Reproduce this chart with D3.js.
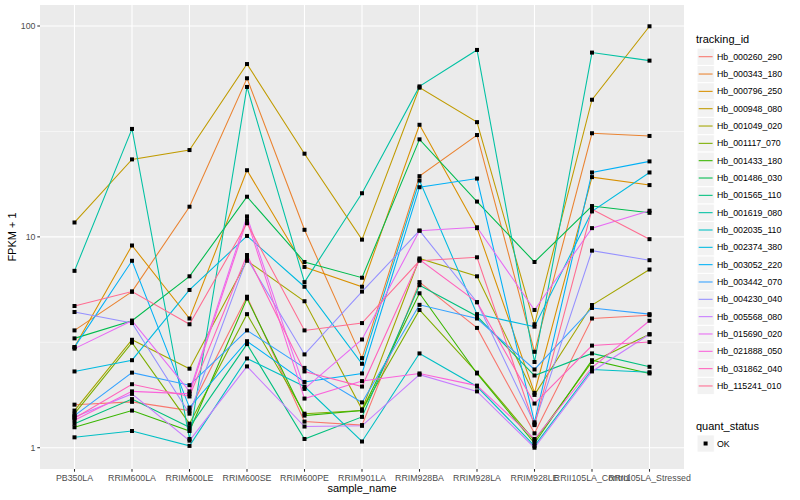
<!DOCTYPE html>
<html>
<head>
<meta charset="utf-8">
<script src="https://cdn.jsdelivr.net/npm/d3@7"></script>
<style>
  body { margin: 0; background: #fff; }
  text { font-family: "Liberation Sans", Arial, Helvetica, sans-serif; }
</style>
</head>
<body>
<div id="chart"></div>
<script>
// samples on the x axis
var samples = ["PB350LA", "RRIM600LA", "RRIM600LE", "RRIM600SE", "RRIM600PE", "RRIM901LA",
  "RRIM928BA", "RRIM928LA", "RRIM928LE", "RRII105LA_Control", "RRII105LA_Stressed"];

var trackingIds = ["Hb_000260_290", "Hb_000343_180", "Hb_000796_250", "Hb_000948_080", "Hb_001049_020",
  "Hb_001117_070", "Hb_001433_180", "Hb_001486_030", "Hb_001565_110", "Hb_001619_080",
  "Hb_002035_110", "Hb_002374_380", "Hb_003052_220", "Hb_003442_070", "Hb_004230_040",
  "Hb_005568_080", "Hb_015690_020", "Hb_021888_050", "Hb_031862_040", "Hb_115241_010"];

// FPKM + 1, one array per gene (same order as samples)
var hb000260 = [1.6, 1.65, 1.5, 5.2, 1.33, 1.28, 6.1, 3.7, 1.17, 4.1, 4.25];
var hb000343 = [3.6, 5.5, 13.9, 56.5, 10.8, 2.66, 19.4, 30.4, 2.85, 31, 30.1];
var hb000796 = [3.0, 9.1, 4.1, 20.7, 7.2, 5.8, 34, 11.0, 1.82, 19.2, 17.6];
var hb000948 = [11.7, 23.3, 25.8, 66, 24.8, 9.7, 51, 35, 3.85, 44.7, 99.7];
var hb001049 = [1.5, 3.25, 2.37, 7.7, 4.95, 1.52, 7.9, 6.5, 1.78, 4.75, 7.0];
var hb001117 = [1.45, 3.15, 1.3, 4.3, 1.45, 1.5, 4.5, 2.27, 1.08, 2.55, 3.45];
var hb001433 = [1.25, 1.5, 1.2, 5.1, 1.42, 1.5, 5.4, 2.25, 1.05, 2.6, 2.25];
var hb001486 = [3.3, 4.0, 6.5, 15.5, 7.6, 6.4, 29, 14.7, 7.6, 14, 13.0];
var hb001565 = [1.3, 1.7, 1.25, 3.1, 1.1, 1.4, 5.9, 4.2, 2.2, 2.8, 2.42];
var hb001619 = [6.9, 32.5, 1.1, 51.4, 6.1, 16.1, 51.7, 77, 2.55, 74.8, 68.5];
var hb002035 = [1.12, 1.2, 1.02, 2.65, 1.95, 1.07, 2.8, 1.95, 1.02, 2.35, 2.28];
var hb002374 = [2.3, 2.6, 5.6, 10.1, 5.8, 2.5, 18.5, 4.3, 3.75, 13.2, 20.2];
var hb003052 = [3.0, 7.7, 1.55, 3.2, 2.05, 2.25, 17.2, 18.9, 1.32, 20.2, 22.8];
var hb003442 = [1.42, 2.27, 1.98, 3.6, 2.39, 1.64, 4.76, 4.1, 2.35, 4.6, 4.3];
var hb004230 = [4.4, 3.9, 1.45, 7.9, 2.77, 5.5, 10.7, 4.9, 1.3, 8.6, 7.75];
var hb005568 = [1.4, 1.8, 1.08, 2.43, 1.26, 1.27, 2.22, 1.85, 1.0, 2.3, 3.45];
var hb015690 = [2.95, 4.0, 1.85, 12.5, 1.9, 3.26, 10.7, 11.1, 4.5, 11, 13.3];
var hb021888 = [1.35, 1.85, 1.8, 12.0, 1.71, 2.07, 2.25, 1.97, 1.1, 2.4, 4.0];
var hb031862 = [1.38, 2.0, 1.75, 8.2, 2.3, 1.95, 7.8, 4.9, 1.62, 3.05, 3.17];
var hb115241 = [4.7, 5.5, 3.85, 11.6, 3.6, 3.9, 7.7, 8.0, 1.28, 13.5, 9.75];

var seriesValues = [hb000260, hb000343, hb000796, hb000948, hb001049, hb001117, hb001433, hb001486,
  hb001565, hb001619, hb002035, hb002374, hb003052, hb003442, hb004230, hb005568,
  hb015690, hb021888, hb031862, hb115241];

var yTicks = [1, 10, 100];
var statusLevels = ["OK"];

// ggplot default hue colours for 20 groups
var colors = ["#F8766D", "#EA8331", "#D89000", "#C09B00", "#A3A500", "#7CAE00", "#39B600", "#00BB4E",
  "#00BF7D", "#00C1A3", "#00BFC4", "#00BAE0", "#00B0F6", "#35A2FF", "#9590FF", "#C77CFF",
  "#E76BF3", "#FA62DB", "#FF62BC", "#FF6C91"];

var svgWidth = 800, svgHeight = 500;
var panel = { left: 40, right: 684, top: 5, bottom: 469 };

var svg = d3.select("#chart").append("svg")
  .attr("width", svgWidth)
  .attr("height", svgHeight);

var xScale = d3.scalePoint()
  .domain(samples)
  .range([panel.left, panel.right])
  .padding(0.6);

var yScale = d3.scaleLog()
  .domain([Math.pow(10, -0.101), Math.pow(10, 2.0996)])
  .range([panel.bottom, panel.top]);

// panel background
svg.append("rect")
  .attr("x", panel.left).attr("y", panel.top)
  .attr("width", panel.right - panel.left)
  .attr("height", panel.bottom - panel.top)
  .attr("fill", "#EBEBEB");

// minor gridlines (log midpoints)
var minor = [Math.sqrt(10), Math.sqrt(1000)];
svg.append("g").selectAll("line").data(minor).enter().append("line")
  .attr("x1", panel.left).attr("x2", panel.right)
  .attr("y1", d => yScale(d)).attr("y2", d => yScale(d))
  .attr("stroke", "#fff").attr("stroke-width", 0.55);

// major gridlines
svg.append("g").selectAll("line").data(yTicks).enter().append("line")
  .attr("x1", panel.left).attr("x2", panel.right)
  .attr("y1", d => yScale(d)).attr("y2", d => yScale(d))
  .attr("stroke", "#fff").attr("stroke-width", 1.1);

svg.append("g").selectAll("line").data(samples).enter().append("line")
  .attr("x1", d => xScale(d)).attr("x2", d => xScale(d))
  .attr("y1", panel.top).attr("y2", panel.bottom)
  .attr("stroke", "#fff").attr("stroke-width", 1.1);

// lines
var line = d3.line()
  .x((d, i) => xScale(samples[i]))
  .y(d => yScale(d));

svg.append("g").selectAll("path").data(seriesValues).enter().append("path")
  .attr("d", d => line(d))
  .attr("fill", "none")
  .attr("stroke", (d, i) => colors[i])
  .attr("stroke-width", 1.07);

// points
var pts = [];
seriesValues.forEach(function(s) {
  s.forEach(function(v, i) { pts.push({ s: samples[i], v: v }); });
});
svg.append("g").selectAll("rect").data(pts).enter().append("rect")
  .attr("x", d => xScale(d.s) - 2)
  .attr("y", d => yScale(d.v) - 2)
  .attr("width", 4).attr("height", 4)
  .attr("fill", "#000");

// axes
var yAxis = svg.append("g");
yAxis.selectAll("line").data(yTicks).enter().append("line")
  .attr("x1", panel.left - 2.7).attr("x2", panel.left)
  .attr("y1", d => yScale(d)).attr("y2", d => yScale(d))
  .attr("stroke", "#333").attr("stroke-width", 1.07);
yAxis.selectAll("text").data(yTicks).enter().append("text")
  .attr("x", panel.left - 4.5)
  .attr("y", d => yScale(d))
  .attr("dy", "0.35em")
  .attr("text-anchor", "end")
  .attr("font-size", 8.8)
  .attr("fill", "#4D4D4D")
  .text(d => d);

var xAxis = svg.append("g");
xAxis.selectAll("line").data(samples).enter().append("line")
  .attr("x1", d => xScale(d)).attr("x2", d => xScale(d))
  .attr("y1", panel.bottom).attr("y2", panel.bottom + 2.7)
  .attr("stroke", "#333").attr("stroke-width", 1.07);
xAxis.selectAll("text").data(samples).enter().append("text")
  .attr("x", d => xScale(d))
  .attr("y", panel.bottom + 12)
  .attr("text-anchor", "middle")
  .attr("font-size", 8.8)
  .attr("fill", "#4D4D4D")
  .text(d => d);

svg.append("text")
  .attr("x", (panel.left + panel.right) / 2)
  .attr("y", 492)
  .attr("text-anchor", "middle")
  .attr("font-size", 11)
  .attr("fill", "#000")
  .text("sample_name");

svg.append("text")
  .attr("transform", "rotate(-90)")
  .attr("x", -(panel.top + panel.bottom) / 2)
  .attr("y", 16)
  .attr("text-anchor", "middle")
  .attr("font-size", 11)
  .attr("fill", "#000")
  .text("FPKM + 1");

// legend: tracking_id
var legend = svg.append("g");
legend.append("text")
  .attr("x", 696).attr("y", 43)
  .attr("font-size", 11)
  .text("tracking_id");

var items = legend.selectAll("g.item").data(trackingIds).enter().append("g")
  .attr("transform", (d, i) => `translate(697, ${56.7 + 17.33 * i})`);
items.append("rect")
  .attr("x", 0).attr("y", -8.6)
  .attr("width", 17.3).attr("height", 17.3)
  .attr("fill", "#F2F2F2").attr("stroke", "#fff").attr("stroke-width", 1);
items.append("line")
  .attr("x1", 1.7).attr("x2", 15.6)
  .attr("y1", 0).attr("y2", 0)
  .attr("stroke", (d, i) => colors[i]).attr("stroke-width", 1.07);
items.append("text")
  .attr("x", 20).attr("y", 0).attr("dy", "0.35em")
  .attr("font-size", 8.8)
  .text(d => d);

// legend: quant_status
legend.append("text")
  .attr("x", 696).attr("y", 430)
  .attr("font-size", 11)
  .text("quant_status");
var ok = legend.selectAll("g.ok").data(statusLevels).enter().append("g")
  .attr("transform", "translate(697, 443.5)");
ok.append("rect")
  .attr("x", 0).attr("y", -8.6)
  .attr("width", 17.3).attr("height", 17.3)
  .attr("fill", "#F2F2F2").attr("stroke", "#fff");
ok.append("rect")
  .attr("x", 6.6).attr("y", -2).attr("width", 4).attr("height", 4)
  .attr("fill", "#000");
ok.append("text")
  .attr("x", 20).attr("y", 0).attr("dy", "0.35em")
  .attr("font-size", 8.8)
  .text(d => d);
</script>
</body>
</html>
